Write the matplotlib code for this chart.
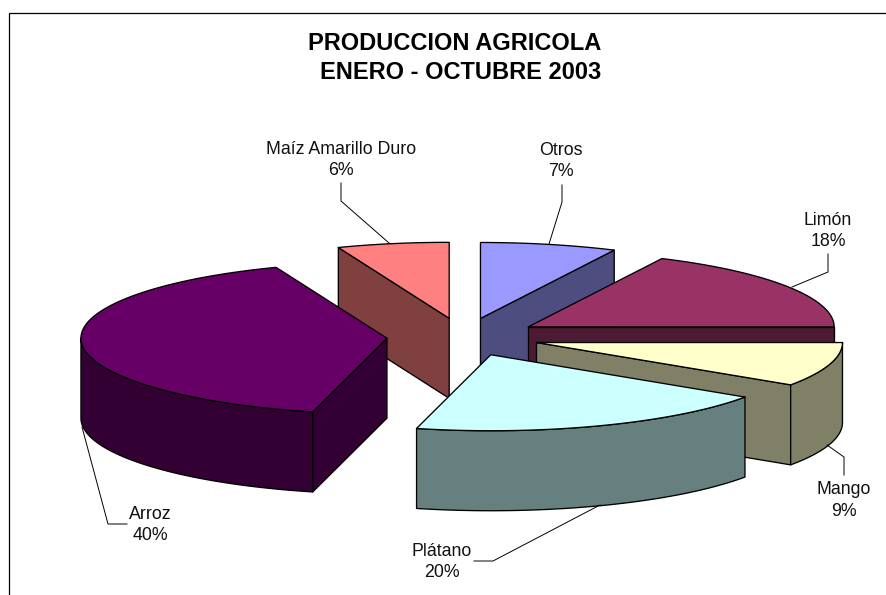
import numpy as np
import matplotlib
matplotlib.use("Agg")
import matplotlib.pyplot as plt
from matplotlib.patches import Polygon

# Data (clockwise from 12 o'clock); shares
categories = ["Otros", "Limón", "Mango", "Plátano", "Arroz", "Maíz Amarillo Duro"]
percentages = [7.2, 17.8, 9.4, 19.5, 40.2, 5.9]
title_lines = ["PRODUCCION AGRICOLA", "ENERO - OCTUBRE 2003"]

# Styles
top_colors = ["#9999FF", "#993366", "#FFFFCC", "#CCFFFF", "#660066", "#FF8080"]
side_colors = ["#4D4D80", "#4D1A33", "#808066", "#668080", "#330033", "#804040"]

# Pie geometry in pixels
CX, CY, RX, RY = 463.3, 337.0, 306.0, 76.0
DEPTH, EXPLODE = 80.0, 0.25
LW = 0.95

# Label placement: (centre x, first baseline, second baseline)
label_pos = [(561, 155, 176), (828, 225, 246), (844, 494, 516),
             (442, 556, 577), (150, 519, 540), (341, 154, 175)]
# Leader lines
leaders = [
    [(562, 185), (562, 202), (549, 244)],
    [(828, 254), (828, 272), (792, 287)],
    [(844, 475), (844, 457), (827, 445)],
    [(474, 561), (493, 561), (600, 505)],
    [(127, 524), (108, 524), (82, 427)],
    [(341, 183), (341, 201), (389, 243)],
]

fig = plt.figure(figsize=(8.87, 5.95), dpi=100)
ax = fig.add_axes([0, 0, 1, 1])
ax.set_xlim(0, 887)
ax.set_ylim(595, 0)
ax.axis("off")
plt.rcParams["font.family"] = ["Liberation Sans", "DejaVu Sans"]

# Chart frame (open at the right and bottom, cropped by the picture)
ax.plot([9.5, 9.5, 890], [600, 12.5, 12.5], color="black", lw=0.9, solid_joinstyle="miter")

total = float(sum(percentages))
edges = np.cumsum([0] + percentages) / total * 2 * np.pi


def pt(t, ox, oy, r=1.0):
    return ox + r * RX * np.sin(t), oy - r * RY * np.cos(t)


slices = []
for i in range(len(percentages)):
    t0, t1 = edges[i], edges[i + 1]
    mid = (t0 + t1) / 2
    ox, oy = pt(mid, CX, CY, EXPLODE)
    slices.append((oy, i, t0, t1, ox))

for oy, i, t0, t1, ox in sorted(slices, key=lambda s: s[0]):
    face = side_colors[i]
    kw = dict(facecolor=face, edgecolor="black", lw=LW, joinstyle="round")
    # radial walls facing the viewer
    if np.sin(t0) < -1e-6:
        x, y = pt(t0, ox, oy)
        ax.add_patch(Polygon([(ox, oy), (x, y), (x, y + DEPTH), (ox, oy + DEPTH)], **kw))
    if np.sin(t1) > 1e-6:
        x, y = pt(t1, ox, oy)
        ax.add_patch(Polygon([(ox, oy), (x, y), (x, y + DEPTH), (ox, oy + DEPTH)], **kw))
    # outer wall, front half only
    a, b = max(t0, np.pi / 2), min(t1, 1.5 * np.pi)
    if b > a:
        ts = np.linspace(a, b, 80)
        xs, ys = pt(ts, ox, oy)
        ax.add_patch(Polygon(np.r_[np.c_[xs, ys], np.c_[xs, ys + DEPTH][::-1]], **kw))
    # top face
    ts = np.linspace(t0, t1, 120)
    xs, ys = pt(ts, ox, oy)
    ax.add_patch(Polygon(np.r_[[[ox, oy]], np.c_[xs, ys]], facecolor=top_colors[i],
                         edgecolor="black", lw=LW, joinstyle="round"))

# Leaders and labels
for pts in leaders:
    p = np.array(pts)
    ax.plot(p[:, 0], p[:, 1], color="black", lw=0.7)

for name, pct, (x, y1, y2) in zip(categories, percentages, label_pos):
    ax.text(x, y1, name, ha="center", va="baseline", fontsize=12.8, color="#111111")
    ax.text(x, y2, f"{pct:.0f}%", ha="center", va="baseline", fontsize=12.8, color="#111111")

ax.text(455, 50, title_lines[0], ha="center", va="baseline", fontsize=17, fontweight="bold", color="black")
ax.text(461, 79, title_lines[1], ha="center", va="baseline", fontsize=17, fontweight="bold", color="black")

fig.savefig("out.png", dpi=100)
